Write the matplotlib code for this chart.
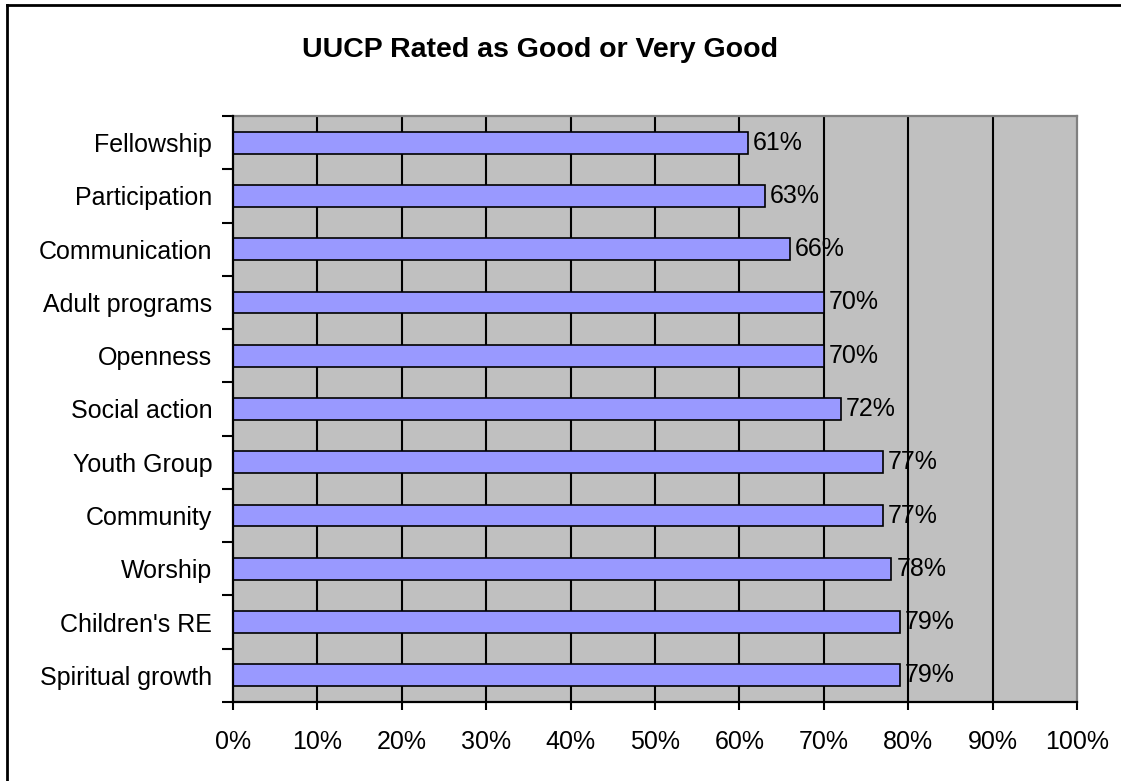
import numpy as np
import matplotlib
matplotlib.use('Agg')
import matplotlib.pyplot as plt
from matplotlib.lines import Line2D

plt.rcParams['font.family'] = ['Liberation Sans', 'DejaVu Sans']

categories = ['Fellowship', 'Participation', 'Communication', 'Adult programs',
              'Openness', 'Social action', 'Youth Group', 'Community',
              'Worship', "Children's RE", 'Spiritual growth']
values = [61, 63, 66, 70, 70, 72, 77, 77, 78, 79, 79]
xticks = [0, 10, 20, 30, 40, 50, 60, 70, 80, 90, 100]

fig = plt.figure(figsize=(11.21, 7.81), dpi=100)
ax = fig.add_axes([233 / 1121, 79 / 781, 844 / 1121, 586 / 781])
ax.set_facecolor('#C0C0C0')

y = np.arange(len(categories))
bars = ax.barh(y, values, height=0.41, color='#9999FF', edgecolor='black',
               linewidth=1.2, zorder=3)
for b, v in zip(bars, values):
    ax.text(b.get_width() + 0.6, b.get_y() + b.get_height() / 2, f'{v}%',
            va='center', ha='left', fontsize=18, zorder=4)

ax.set_xlim(0, 100)
ax.set_ylim(len(categories) - 0.5, -0.5)

# vertical grid lines
for x in xticks[1:-1]:
    ax.axvline(x, color='black', linewidth=1.5, zorder=1)

ax.set_xticks(xticks)
ax.set_xticklabels([f'{x}%' for x in xticks], fontsize=18)
ax.tick_params(axis='x', direction='out', length=6, width=1.5, pad=14)

ax.set_yticks(y)
ax.set_yticklabels(categories, fontsize=18)
ax.set_yticks(np.arange(len(categories) + 1) - 0.5, minor=True)
ax.tick_params(axis='y', which='major', length=0, pad=15)
ax.tick_params(axis='y', which='minor', direction='out', length=8, width=1.5)

for side in ['left', 'bottom']:
    ax.spines[side].set_color('black')
    ax.spines[side].set_linewidth(1.6)
    ax.spines[side].set_zorder(5)
for side in ['right', 'top']:
    ax.spines[side].set_color('#808080')
    ax.spines[side].set_linewidth(1.6)

fig.text(540 / 1121, 1 - 50 / 781, 'UUCP Rated as Good or Very Good',
         ha='center', va='center', fontsize=20.5, fontweight='bold')

# chart border (only top and left visible)
fig.add_artist(Line2D([7 / 1121, 1], [1 - 5 / 781, 1 - 5 / 781],
                      transform=fig.transFigure, color='black', linewidth=2))
fig.add_artist(Line2D([7 / 1121, 7 / 1121], [0, 1 - 5 / 781],
                      transform=fig.transFigure, color='black', linewidth=2))

fig.savefig('out.png', dpi=100)
